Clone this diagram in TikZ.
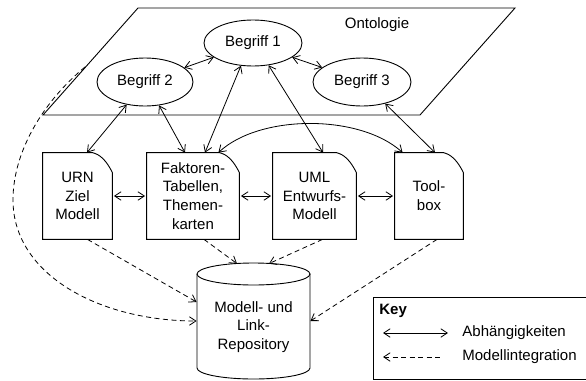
\documentclass[tikz,border=0pt]{standalone}
\usepackage{fontspec}
\setmainfont{Liberation Sans}
\usetikzlibrary{arrows.meta,calc,shapes.geometric}

\begin{document}
\begin{tikzpicture}[x=1pt,y=-1pt,
  >={Straight Barb[length=6.5pt,width=8.5pt]},
  every node/.style={font=\fontsize{15}{18.8}\selectfont},
  line width=0.8pt,
  concept/.style={draw, ellipse, inner sep=0pt, line width=0.9pt},
  docbox/.style={inner sep=0pt, align=center},
  link/.style={<->},
  integ/.style={->, dash pattern=on 5pt off 3.5pt}]

\useasboundingbox (0,0) rectangle (586,380);

% ontology plane
\draw[line width=0.9pt] (138,8) -- (515,8) -- (420,115) -- (43,115) -- cycle;
\node (ontlabel) at (377,25) {Ontologie};
\coordinate (ontedge) at (85,67);

% concepts
\node[concept, minimum width=98pt, minimum height=46pt] (b1) at (253,43) {Begriff 1};
\node[concept, minimum width=96pt, minimum height=48pt] (b2) at (145,82) {Begriff 2};
\node[concept, minimum width=98pt, minimum height=48pt] (b3) at (362,82) {Begriff 3};

% documents with a dog-eared corner
\node[docbox, minimum width=69pt, minimum height=86pt] (urn) at (77.5,196) {URN\\Ziel\\Modell};
\node[docbox, minimum width=92pt, minimum height=86pt] (fak) at (193,196) {Faktoren-\\Tabellen,\\Themen-\\karten};
\node[docbox, minimum width=83pt, minimum height=86pt] (uml) at (314.5,196) {UML\\Entwurfs-\\Modell};
\node[docbox, minimum width=68pt, minimum height=86pt] (tool) at (429,196) {Tool-\\box};
\foreach \d in {urn,fak,uml,tool}
  \draw[line width=0.9pt] (\d.south west) -- (\d.north west) -- ($(\d.north east)+(-20,0)$)
     .. controls ($(\d.north east)+(-12,2)$) and ($(\d.north east)+(-6,8)$) .. ($(\d.north east)+(0,20)$)
     -- (\d.south east) -- cycle;

% repository cylinder
\draw[line width=0.9pt] (197,274) -- (197,368) arc[start angle=180,end angle=360,x radius=56.5pt,y radius=11pt] -- (310,274);
\draw[line width=0.9pt] (253.5,274) ellipse[x radius=56.5pt,y radius=11pt];
\node[minimum width=113pt, minimum height=116pt, inner sep=0pt] (repo) at (253.5,321) {};
\node[align=center, yshift=-6pt] (repotext) at (repo.center) {Modell- und\\Link-\\Repository};

% dependencies
\draw[link] (b2.20) -- (b1.200);
\draw[link] (b1.340) -- (b3.160);
\draw[link] (b2.231) -- ($(urn.north)+(9.5,0)$);
\draw[link] (b2.301) -- ($(fak.north)+(-8,0)$);
\draw[link] (b1.242) -- ($(fak.north)+(12,0)$);
\draw[link] (b1.305) -- ($(uml.north)+(8.5,0)$);
\draw[link] (b3.317) -- ($(tool.north)+(6,0)$);
\draw[link] ($(fak.north east)+(-21,0)$) .. controls (260,114) and (360,114) .. ($(tool.north west)+(8,0)$);
\draw[link, shorten <=1.5pt, shorten >=1.5pt] (urn.east) -- (fak.west);
\draw[link, shorten <=1.5pt, shorten >=1.5pt] (fak.east) -- (uml.west);
\draw[link, shorten <=1.5pt, shorten >=1.5pt] (uml.east) -- (tool.west);

% model integration
\draw[integ] ($(urn.south)+(10,0)$) -- ($(repo.west)+(0,-19)$);
\draw[integ] ($(fak.south)+(11,0)$) -- ($(repo.north)+(-16.5,1)$);
\draw[integ] ($(uml.south)+(8,0)$) -- ($(repo.north)+(15.5,1)$);
\draw[integ] ($(tool.south)+(8,0)$) -- (repo.east);
\draw[integ] (ontedge) .. controls (45,100) and (13,150) .. (13,200)
   .. controls (13,275) and (100,321) .. (repo.west);

% key
\draw[line width=0.9pt] (373,297) rectangle (600,379);
\node[anchor=west, inner sep=0pt, font=\fontsize{15}{18}\selectfont\bfseries] (keytitle) at (379,311) {Key};
\coordinate (k1a) at (383,333);
\coordinate (k1b) at (448,333);
\coordinate (k2a) at (383,357);
\coordinate (k2b) at (443,357);
\draw[link] (k1a) -- (k1b);
\draw[<-, dash pattern=on 5pt off 3.5pt] (k2a) -- (k2b);
\node[anchor=west, inner sep=0pt] (keydep) at (462,333) {Abhängigkeiten};
\node[anchor=west, inner sep=0pt] (keyint) at (462,357) {Modellintegration};
\end{tikzpicture}
\end{document}
